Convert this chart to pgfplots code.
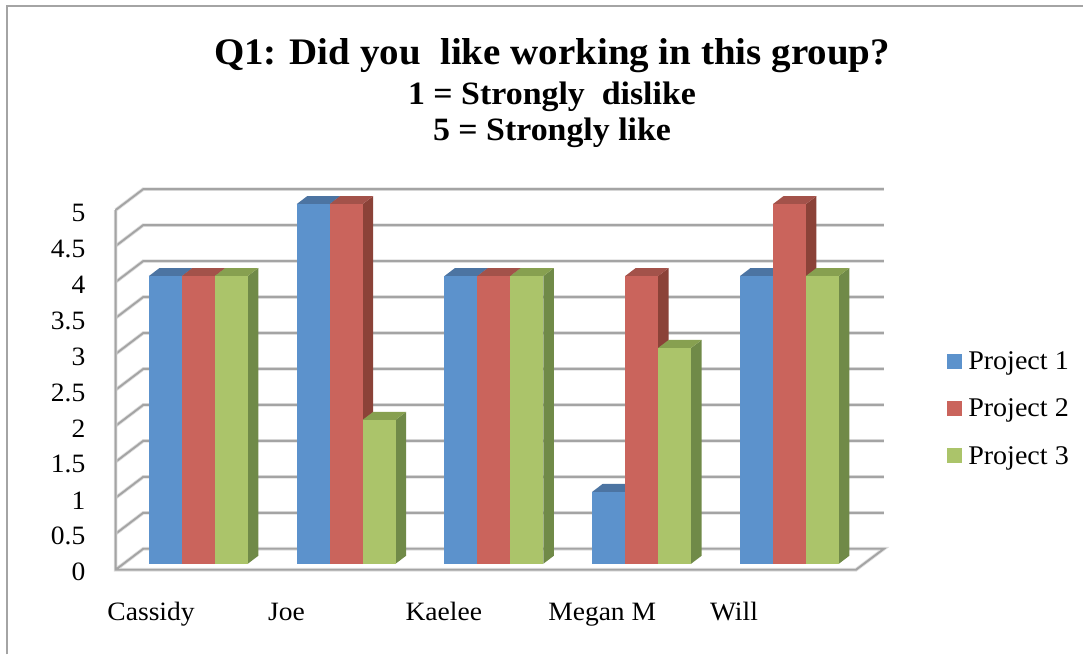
\documentclass[border=0pt]{standalone}
\usepackage{pgfplots}
\pgfplotsset{compat=1.18}
\usepackage{fontspec}
\setmainfont{Liberation Serif}[FakeStretch=1.04]

\definecolor{frontA}{HTML}{5C92CC}
\definecolor{topA}{HTML}{4C74A2}
\definecolor{sideA}{HTML}{446A94}
\definecolor{frontB}{HTML}{CA645C}
\definecolor{topB}{HTML}{A3524A}
\definecolor{sideB}{HTML}{8B4238}
\definecolor{frontC}{HTML}{ABC46A}
\definecolor{topC}{HTML}{87A050}
\definecolor{sideC}{HTML}{708A48}
\definecolor{gridgray}{HTML}{A4A4A4}
\definecolor{gridhalo}{HTML}{DEDEDE}

% One 3-D column: left edge, value, colour suffix
\newcommand{\column}[3]{%
  \pgfmathsetmacro{\xr}{#1+0.223}%
  \pgfmathsetmacro{\xl}{#1+0.071}%
  \pgfmathsetmacro{\xb}{\xr+0.071}%
  \pgfmathsetmacro{\vb}{#2+0.111}%
  \addplot[forget plot,fill=side#3,draw=none] coordinates {(\xr,0) (\xb,0.111) (\xb,\vb) (\xr,#2)} --cycle;
  \addplot[forget plot,fill=top#3,draw=none] coordinates {(#1,#2) (\xl,\vb) (\xb,\vb) (\xr,#2)} --cycle;
  \pgfmathsetmacro{\xe}{#1}%
  \addplot[forget plot,fill=front#3,draw=none] coordinates {(\xe,0) (\xr,0) (\xr,#2) (\xe,#2)} --cycle;
}
% A category: position, then the three projects' answers
\newcommand{\columns}[4]{%
  \pgfmathsetmacro{\xa}{#1-0.3345}\column{\xa}{#2}{A}%
  \pgfmathsetmacro{\xa}{#1-0.1115}\column{\xa}{#3}{B}%
  \pgfmathsetmacro{\xa}{#1+0.1115}\column{\xa}{#4}{C}%
}
% Wall grid line with its soft edge, at a given value
\newcommand{\wallline}[1]{%
  \pgfmathsetmacro{\vf}{#1-0.0833}%
  \pgfmathsetmacro{\vk}{#1+0.2083}%
  \addplot[forget plot,gridhalo,line width=3.6pt] coordinates {(-0.5602,\vf) (-0.3729,\vk) (4.6393,\vk)};
  \addplot[forget plot,gridgray,line width=1.9pt] coordinates {(-0.5602,\vf) (-0.3729,\vk) (4.6393,\vk)};
}

\begin{document}
\begin{tikzpicture}
\begin{axis}[
  scale only axis,
  width=1084pt, height=655pt,
  xmin=-1.3425, xmax=5.9868,
  ymin=-1.2597, ymax=7.8375,
  clip=false,
  axis line style={draw=none},
  major tick length=0pt,
  tick style={draw=none},
  xtick pos=bottom, ytick pos=left,
  ytick={0,0.5,...,5},
  /pgf/number format/assume math mode=true,
  yticklabel style={font=\fontsize{26.5}{26.5}\selectfont,anchor=east,xshift=89pt,yshift=-8.5pt},
  xtick={-0.3201,0.5960,1.6610,2.7330,3.6250},
  xticklabels={Cassidy,Joe,Kaelee,Megan M,Will},
  xticklabel style={font=\fontsize{26.5}{26.5}\selectfont,anchor=base,yshift=34pt},
  title style={at={(0.5097,0.9379)},anchor=north,align=center,font=\bfseries\fontsize{32.6}{36}\selectfont},
  title={{\fontsize{37.5}{42}\selectfont Q1: Did you\ \ like working in this group?}\\[4pt]
         1 = Strongly\ \ dislike\\
         5 = Strongly like},
  legend style={at={(0.8745,0.3756)},anchor=west,draw=none,fill=none,
    font=\fontsize{27}{27}\selectfont,row sep=28pt,inner sep=0pt,
    nodes={inner sep=0pt,anchor=west}},
  legend cell align=left,
  legend image code/.code={\fill[#1,draw=none] (0pt,-7.5pt) rectangle (15pt,7.5pt);},
]
% walls
\pgfplotsinvokeforeach{0.5,1,...,5}{\wallline{#1}}
% floor and front vertical edge
\addplot[forget plot,gridhalo,line width=3.6pt] coordinates {(-0.5602,4.9167) (-0.5602,-0.0833) (4.4500,-0.0833) (4.6393,0.2083) (-0.3729,0.2083) (-0.5602,-0.0833)};
\addplot[forget plot,gridgray,line width=1.9pt] coordinates {(-0.5602,4.9167) (-0.5602,-0.0833) (4.4500,-0.0833) (4.6393,0.2083) (-0.3729,0.2083) (-0.5602,-0.0833)};
% answers per person: Project 1, 2, 3
\columns{0}{4}{4}{4}
\columns{1}{5}{5}{2}
\columns{2}{4}{4}{4}
\columns{3}{1}{4}{3}
\columns{4}{4}{5}{4}
\addlegendimage{fill=frontA}\addlegendentry{\hspace{6pt}Project 1}
\addlegendimage{fill=frontB}\addlegendentry{\hspace{6pt}Project 2}
\addlegendimage{fill=frontC}\addlegendentry{\hspace{6pt}Project 3}
% outer frame of the chart area
\draw[gridgray,line width=2pt] (rel axis cs:0.0065,0) -- (rel axis cs:0.0065,0.9908) -- (rel axis cs:1,0.9908);
\end{axis}
\end{tikzpicture}
\end{document}
